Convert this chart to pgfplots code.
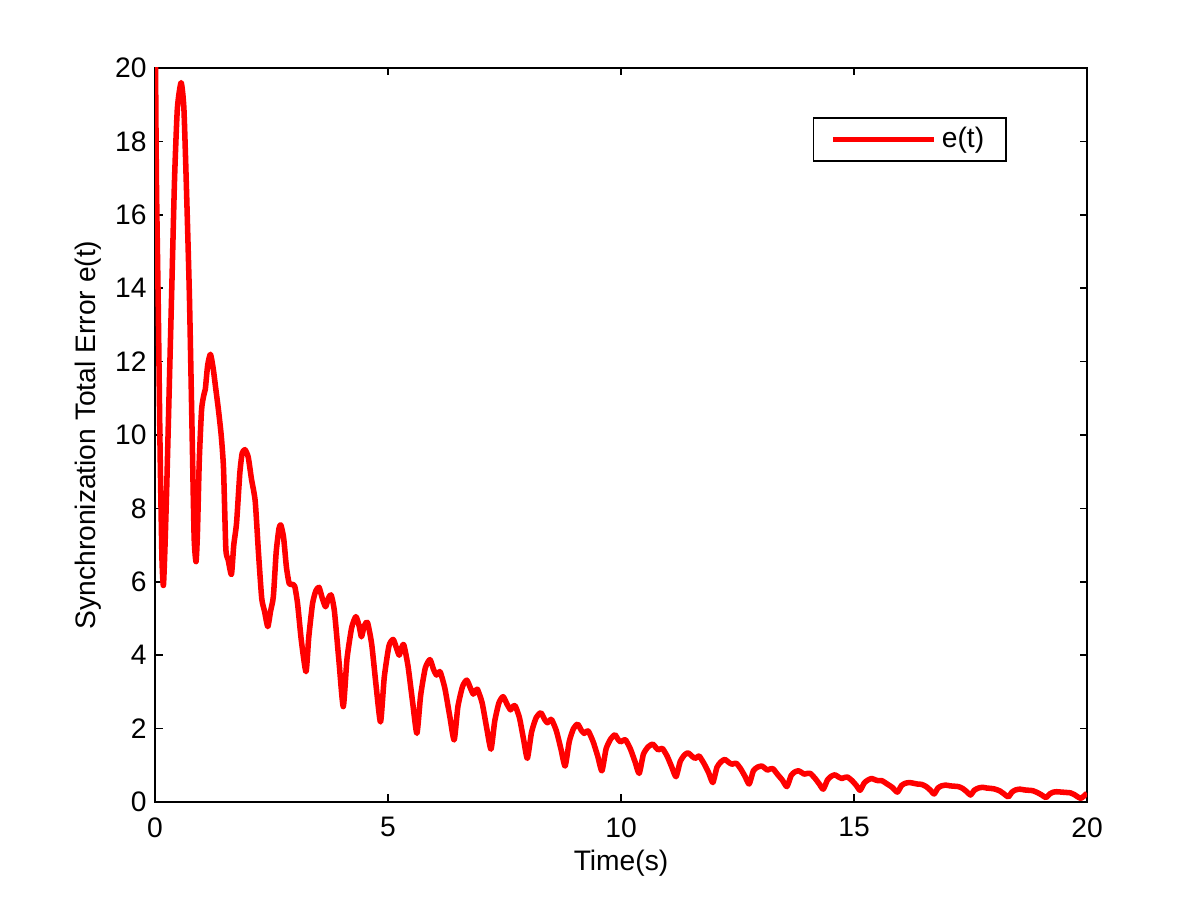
\documentclass[border=0pt]{standalone}
\usepackage{fontspec}
\setmainfont{Liberation Sans}
\usepackage{pgfplots}
\pgfplotsset{compat=1.18}
\begin{document}
\begin{tikzpicture}
\path[use as bounding box, fill=white] (0,0) rectangle (16cm,12.0267cm);
\begin{axis}[
  at={(2.0667cm,1.3333cm)}, anchor=south west,
  scale only axis, width=12.4267cm, height=9.7867cm,
  xmin=0, xmax=20, ymin=0, ymax=20,
  xtick={0,5,10,15,20}, ytick={0,2,...,20},
  tick align=inside, xtick pos=both, ytick pos=both,
  major tick length=0.1cm,
  axis line style={line width=0.6pt}, every tick/.style={line width=0.6pt, black},
  font=\fontsize{10.7}{12.5}\selectfont,
  /pgf/number format/assume math mode=true,
  tick label style={font=\fontsize{10.7}{12.5}\selectfont},
  xticklabel style={yshift=-2.3pt},
  yticklabel style={xshift=0.3pt},
  xlabel={Time(s)}, ylabel={Synchronization Total Error e(t)},
  xlabel style={at={(axis description cs:0.5,-0.083)}, anchor=center},
  ylabel style={at={(axis description cs:-0.072,0.5)}, anchor=center},
  legend style={at={(0.914,0.933)}, anchor=north east, draw=black, line width=0.6pt,
    font=\fontsize{10.7}{12.5}\selectfont, inner xsep=6.3pt, inner ysep=1.5pt},
  legend image code/.code={\draw[#1, line width=2.1pt] (0cm,0cm) -- (1.347cm,0cm);},
  clip=true,
]
\addplot[red, line width=2.1pt, line join=round, smooth, tension=0.35] coordinates {
(0,22) (0.03,17) (0.07,13.5) (0.11,9.5) (0.15,6.6) (0.18,5.9) (0.21,6.8) (0.25,8.5)
(0.3,11) (0.36,14) (0.42,17) (0.48,18.9) (0.56,19.6) (0.62,18.9) (0.68,16.5) (0.74,13.7)
(0.8,9.8) (0.84,7.2) (0.88,6.55) (0.91,7.3) (0.95,9.3) (1.0,10.7) (1.05,11.1) (1.08,11.25)
(1.13,11.9) (1.19,12.2) (1.25,11.8) (1.3,11.3) (1.36,10.7) (1.42,10.0) (1.47,9.1) (1.52,6.9)
(1.57,6.6) (1.64,6.2) (1.69,7.0) (1.75,7.6) (1.82,8.96) (1.87,9.5) (1.93,9.6) (2.0,9.4)
(2.07,8.8) (2.15,8.2) (2.22,6.8) (2.29,5.55) (2.35,5.2) (2.42,4.78) (2.48,5.2) (2.54,5.6)
(2.6,6.8) (2.66,7.45) (2.7,7.55) (2.76,7.2) (2.82,6.4) (2.88,5.95) (2.95,5.93) (3.0,5.87)
(3.06,5.4) (3.14,4.4) (3.24,3.55) (3.3,4.5) (3.38,5.4) (3.45,5.75) (3.52,5.85) (3.59,5.55)
(3.66,5.32) (3.72,5.55) (3.78,5.64) (3.85,5.2) (3.95,3.8) (4.04,2.6)
(4.12,3.9) (4.22,4.75) (4.31,5.05) (4.38,4.8) (4.43,4.5) (4.49,4.8) (4.56,4.89) (4.65,4.3)
(4.75,3.1) (4.84,2.18) (4.92,3.4) (5.02,4.25) (5.11,4.43) (5.18,4.2) (5.24,4.0) (5.29,4.2)
(5.34,4.28) (5.43,3.7) (5.53,2.7) (5.62,1.87) (5.70,2.9) (5.80,3.65) (5.90,3.88) (5.98,3.6)
(6.04,3.46) (6.08,3.52) (6.12,3.55) (6.22,3.1) (6.33,2.3) (6.42,1.69) (6.50,2.6) (6.60,3.15)
(6.69,3.32) (6.77,3.1) (6.83,2.94) (6.88,3.03) (6.92,3.07) (7.02,2.7) (7.12,2.0) (7.21,1.44)
(7.29,2.2) (7.38,2.7) (7.47,2.87) (7.56,2.65) (7.63,2.51) (7.68,2.6) (7.73,2.62) (7.82,2.3)
(7.91,1.7) (7.99,1.19) (8.08,1.9) (8.18,2.3) (8.28,2.43) (8.36,2.25) (8.42,2.16) (8.47,2.22)
(8.51,2.25) (8.61,1.95) (8.71,1.45) (8.80,0.98) (8.89,1.65) (8.98,2.0) (9.07,2.12) (9.15,1.95)
(9.21,1.87) (9.26,1.92) (9.30,1.93) (9.40,1.65) (9.50,1.25) (9.59,0.85) (9.68,1.45) (9.78,1.72)
(9.87,1.83) (9.94,1.7) (9.99,1.64) (10.05,1.68) (10.10,1.69) (10.20,1.45) (10.30,1.1) (10.39,0.78)
(10.48,1.3) (10.58,1.5) (10.68,1.58) (10.75,1.48) (10.80,1.42) (10.85,1.45) (10.89,1.46) (10.99,1.25)
(11.09,0.95) (11.18,0.69) (11.27,1.1) (11.36,1.28) (11.44,1.34) (11.52,1.25) (11.59,1.19) (11.64,1.23)
(11.68,1.25) (11.78,1.05) (11.88,0.8) (11.97,0.53) (12.06,0.95) (12.15,1.1) (12.23,1.16) (12.31,1.08)
(12.38,1.03) (12.43,1.05) (12.48,1.05) (12.57,0.9) (12.66,0.7) (12.75,0.49) (12.84,0.85) (12.93,0.95)
(13.02,0.98) (13.09,0.92) (13.14,0.87) (13.20,0.9) (13.26,0.91) (13.36,0.75) (13.46,0.6) (13.56,0.42)
(13.65,0.72) (13.73,0.82) (13.81,0.85) (13.88,0.8) (13.93,0.76) (14.00,0.78) (14.06,0.78) (14.16,0.65)
(14.25,0.5) (14.34,0.35) (14.43,0.6) (14.51,0.7) (14.59,0.74) (14.67,0.68) (14.74,0.64) (14.80,0.67)
(14.86,0.68) (14.96,0.58) (15.05,0.45) (15.13,0.32) (15.22,0.52) (15.30,0.6) (15.38,0.64) (15.46,0.6)
(15.52,0.58) (15.60,0.58) (15.70,0.5) (15.82,0.4) (15.93,0.27) (16.02,0.45) (16.10,0.51) (16.19,0.53)
(16.28,0.51) (16.36,0.49) (16.45,0.48) (16.55,0.42) (16.64,0.32) (16.72,0.22) (16.80,0.38) (16.88,0.44)
(16.97,0.46) (17.06,0.44) (17.15,0.43) (17.24,0.42) (17.33,0.37) (17.42,0.28) (17.50,0.19) (17.58,0.32)
(17.67,0.38) (17.76,0.40) (17.85,0.38) (17.94,0.37) (18.03,0.35) (18.13,0.3) (18.22,0.22) (18.31,0.14)
(18.39,0.27) (18.47,0.33) (18.56,0.35) (18.65,0.33) (18.74,0.32) (18.83,0.31) (18.93,0.26) (19.03,0.19)
(19.12,0.12) (19.20,0.22) (19.28,0.27) (19.35,0.28) (19.45,0.27) (19.55,0.26) (19.64,0.25) (19.73,0.2)
(19.80,0.14) (19.87,0.1) (19.94,0.17) (20.00,0.24)
};
\addlegendentry{e(t)}
\end{axis}
\end{tikzpicture}
\end{document}
